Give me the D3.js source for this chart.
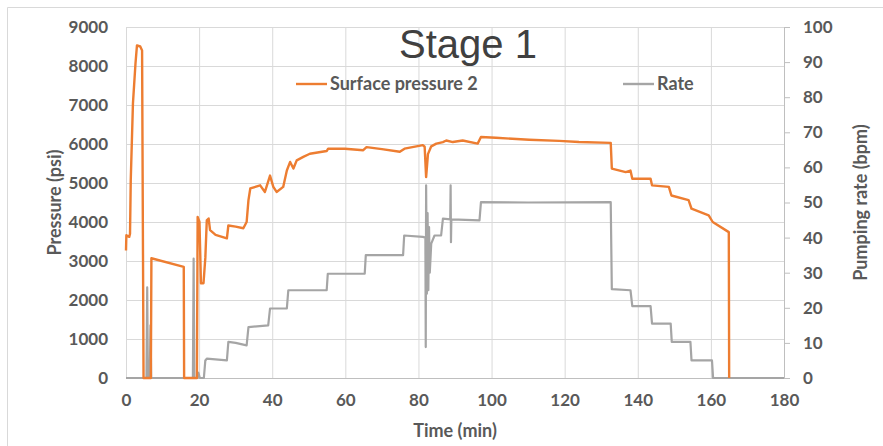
<!DOCTYPE html>
<html>
<head>
<meta charset="utf-8">
<script src="https://cdn.jsdelivr.net/npm/d3@7/dist/d3.min.js"></script>
<style>
  body { margin: 0; background: #fff; }
  svg { display: block; font-family: Lato, 'Open Sans', sans-serif; }
  .grid line { stroke: #d9d9d9; stroke-width: 1; }
  .grid path { display: none; }
</style>
</head>
<body>
<div id="chart"></div>
<script>
// Values: [time (min), value]
const pressureSeries = [
  [0, 3270], [0.1, 3660], [0.9, 3620], [1.1, 3700], [1.3, 5070], [1.9, 7040], [2.6, 8070],
  [3.0, 8530], [3.9, 8500], [4.4, 8400], [4.8, 0], [6.8, 0], [6.95, 3070], [15.8, 2850],
  [15.9, 0], [19.4, 0], [19.6, 4130], [20.1, 4000], [20.5, 2430], [21.2, 2430], [21.7, 3080],
  [22.1, 4040], [22.6, 4090], [23.0, 3790], [24.5, 3670], [27.6, 3580], [28.0, 3910],
  [30.0, 3880], [32.1, 3840], [33.0, 4000], [33.5, 4560], [34.0, 4860], [36.7, 4940],
  [38.0, 4770], [39.4, 5190], [40.3, 4900], [41.2, 4770], [43.0, 4900], [44.0, 5320],
  [44.9, 5540], [45.8, 5370], [46.7, 5580], [48.5, 5670], [50.3, 5750], [54.9, 5820],
  [55.3, 5880], [59.9, 5880], [64.9, 5840], [65.8, 5920], [70.0, 5870], [74.9, 5800],
  [76.2, 5880], [81.2, 5970], [81.7, 5930], [82.1, 5150], [82.6, 5740], [83.5, 5940],
  [84.9, 6010], [86.7, 6050], [87.6, 6090], [89.4, 6050], [92.1, 6090], [96.2, 6010],
  [97.1, 6180], [101.2, 6160], [110.3, 6110], [118.5, 6080], [123.9, 6050], [132.6, 6030],
  [132.9, 5370], [136.7, 5280], [138.0, 5320], [138.5, 5110], [143.5, 5110], [143.9, 4940],
  [148.5, 4900], [149.2, 4680], [153.9, 4560], [154.7, 4340], [159.4, 4170], [160.5, 4000],
  [164.9, 3740], [165.0, 0]
]

const rateSeries = [
  [0, 0], [5.6, 0], [5.8, 25.8], [6.0, 0], [6.5, 0], [6.7, 15], [6.9, 0], [18.3, 0],
  [18.5, 34], [18.7, 0], [19.5, 0], [19.8, 1.5], [20.2, 0], [21.3, 0], [21.7, 5],
  [22.1, 5.5], [27.6, 5], [28.0, 10.3], [30.0, 10], [33.0, 9.3], [33.5, 14.5], [38.9, 15],
  [39.4, 19.8], [44.0, 19.8], [44.4, 25], [54.9, 25], [55.2, 29.7], [65.3, 29.7],
  [65.6, 35], [75.8, 35], [76.1, 40.6], [81.2, 40.2], [81.9, 40], [82.0, 8.8], [82.1, 54.9],
  [82.3, 24], [82.5, 47], [82.7, 25], [82.9, 43], [83.1, 30], [83.5, 38.3], [84.4, 40.6],
  [86.2, 40.6], [86.7, 45.4], [88.7, 45.2], [88.8, 54.9], [88.9, 38.7], [89.0, 45.2],
  [96.7, 44.9], [97.1, 50.1], [110, 50], [132.6, 50.1], [132.9, 25.3], [138.0, 25],
  [138.5, 20.5], [143.5, 20.5], [143.9, 15.5], [149.0, 15.5], [149.3, 10.3], [154.4, 10.3],
  [154.7, 5], [160.3, 5], [160.6, 0], [180, 0]
]

const timeTicks = [0, 20, 40, 60, 80, 100, 120, 140, 160, 180]
const pressureTicks = [0, 1000, 2000, 3000, 4000, 5000, 6000, 7000, 8000, 9000]
const rateTicks = [0, 10, 20, 30, 40, 50, 60, 70, 80, 90, 100]

const width = 883
const height = 446
const margin = { top: 27, right: 99, bottom: 68, left: 126 }
const innerWidth = width - margin.left - margin.right
const innerHeight = height - margin.top - margin.bottom

const orange = '#ed7d31'
const gray = '#a5a5a5'
const textColor = '#595959'

const svg = d3.select('#chart')
  .append('svg')
  .attr('width', width)
  .attr('height', height)

// Chart border (top and left edges show in the picture)
svg.append('path')
  .attr('d', `M7.5,${height} V7.5 H${width}`)
  .attr('fill', 'none')
  .attr('stroke', '#d9d9d9')

const g = svg.append('g')
  .attr('transform', `translate(${margin.left}, ${margin.top})`)

const xScale = d3.scaleLinear().domain([0, 180]).range([0, innerWidth])
const yScale = d3.scaleLinear().domain([0, 9000]).range([innerHeight, 0])
const y2Scale = d3.scaleLinear().domain([0, 100]).range([innerHeight, 0])

// Gridlines
g.append('g')
  .attr('class', 'grid')
  .attr('transform', `translate(0, ${innerHeight})`)
  .call(d3.axisBottom(xScale).tickValues(timeTicks).tickSize(-innerHeight).tickFormat(''))

g.append('g')
  .attr('class', 'grid')
  .call(d3.axisLeft(yScale).tickValues(pressureTicks).tickSize(-innerWidth).tickFormat(''))

const styleTicks = (axis) => {
  axis.attr('font-family', null).attr('font-size', null)
  axis.selectAll('text')
    .attr('fill', textColor)
    .style('font-size', '17px')
    .style('font-weight', 'bold')
}

// Bottom axis
const xAxis = g.append('g')
  .attr('transform', `translate(0, ${innerHeight})`)
  .call(d3.axisBottom(xScale).tickValues(timeTicks).tickFormat(d3.format('d')).tickSize(0).tickPadding(16))
xAxis.select('.domain').attr('stroke', '#bfbfbf')
styleTicks(xAxis)

// Left axis
const yAxis = g.append('g')
  .call(d3.axisLeft(yScale).tickValues(pressureTicks).tickFormat(d3.format('d')).tickSize(0).tickPadding(18))
yAxis.select('.domain').remove()
styleTicks(yAxis)

// Right axis
const y2Axis = g.append('g')
  .attr('transform', `translate(${innerWidth}, 0)`)
  .call(d3.axisRight(y2Scale).tickValues(rateTicks).tickFormat(d3.format('d')).tickSize(6).tickSizeOuter(0).tickPadding(13))
y2Axis.select('.domain').attr('stroke', '#bfbfbf')
y2Axis.selectAll('.tick line').attr('stroke', '#bfbfbf')
styleTicks(y2Axis)

// Series lines
const pressureLine = d3.line()
  .x(d => xScale(d[0]))
  .y(d => yScale(d[1]))

const rateLine = d3.line()
  .x(d => xScale(d[0]))
  .y(d => y2Scale(d[1]))

g.append('path')
  .datum(rateSeries)
  .attr('fill', 'none')
  .attr('stroke', gray)
  .attr('stroke-width', 2.2)
  .attr('stroke-linejoin', 'round')
  .attr('d', rateLine)

g.append('path')
  .datum(pressureSeries)
  .attr('fill', 'none')
  .attr('stroke', orange)
  .attr('stroke-width', 2.4)
  .attr('stroke-linejoin', 'round')
  .attr('d', pressureLine)

// Title
svg.append('text')
  .attr('x', 468)
  .attr('y', 58)
  .attr('text-anchor', 'middle')
  .attr('fill', '#404040')
  .style('font-family', "'Liberation Sans', Arial, sans-serif")
  .style('font-size', '40px')
  .text('Stage 1')

// Legend
const legend = [
  { label: 'Surface pressure 2', color: orange, x: 296 },
  { label: 'Rate', color: gray, x: 623 }
]
legend.forEach(item => {
  svg.append('line')
    .attr('x1', item.x).attr('x2', item.x + 31)
    .attr('y1', 84).attr('y2', 84)
    .attr('stroke', item.color)
    .attr('stroke-width', 2.4)
  svg.append('text')
    .attr('x', item.x + 34)
    .attr('y', 84)
    .attr('dy', '0.35em')
    .attr('fill', textColor)
    .style('font-size', '18px')
    .style('font-weight', 'bold')
    .text(item.label)
})

// Axis titles
const axisTitle = (sel) => sel
  .attr('fill', textColor)
  .attr('text-anchor', 'middle')
  .style('font-size', '18px')
  .style('font-weight', 'bold')

svg.append('text')
  .call(axisTitle)
  .attr('x', margin.left + innerWidth / 2)
  .attr('y', 437)
  .text('Time (min)')

svg.append('text')
  .call(axisTitle)
  .attr('transform', `translate(55, ${margin.top + innerHeight / 2}) rotate(-90)`)
  .attr('dy', '0.35em')
  .text('Pressure (psi)')

svg.append('text')
  .call(axisTitle)
  .attr('transform', `translate(861, ${margin.top + innerHeight / 2}) rotate(-90)`)
  .attr('dy', '0.35em')
  .text('Pumping rate (bpm)')
</script>
</body>
</html>
